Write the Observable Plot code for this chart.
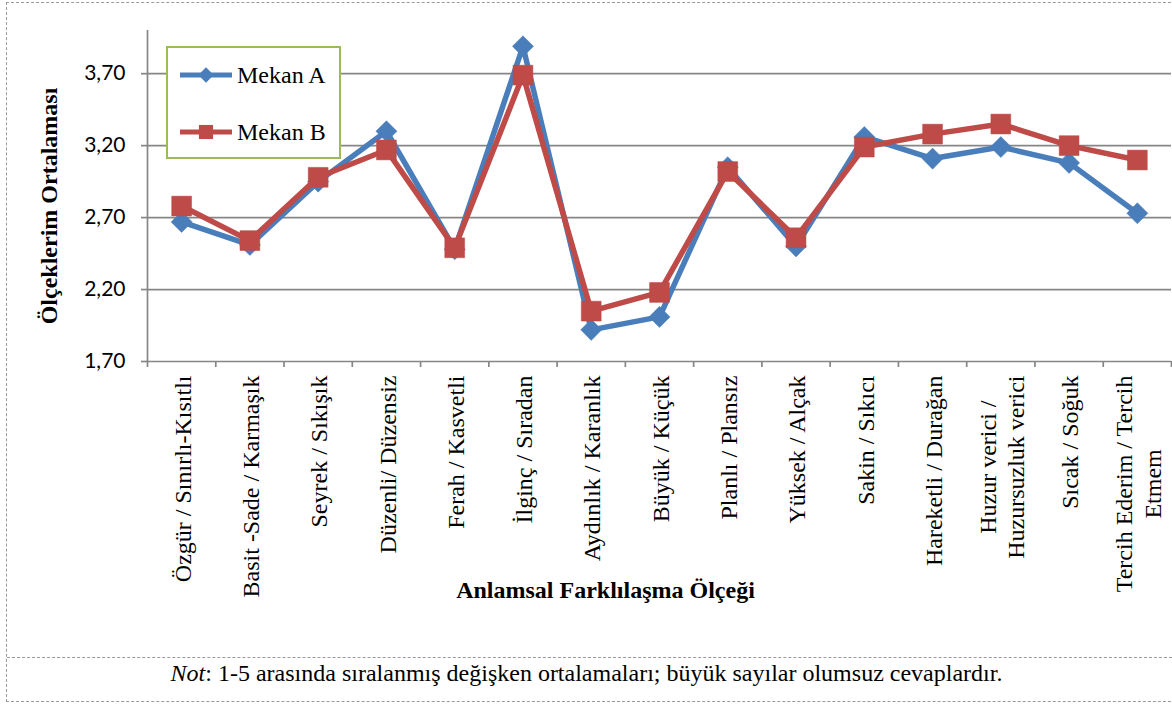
<!DOCTYPE html>
<html>
<head>
<meta charset="utf-8">
<script src="https://cdn.jsdelivr.net/npm/d3@7"></script>
<script src="https://cdn.jsdelivr.net/npm/@observablehq/plot@0.6"></script>
<style>
  html, body { margin: 0; padding: 0; background: #fff; }
  body { width: 1172px; height: 704px; position: relative; overflow: hidden; font-family: "Liberation Serif", "Times New Roman", serif; }
  #frame { position: absolute; left: 6px; top: 2px; width: 1200px; height: 700px; border: 1px dashed #9a9a9a; box-sizing: border-box; pointer-events: none; }
  #chart { position: absolute; left: 0; top: 0; }
  #chart svg { display: block; }
  #chart g[aria-label="x-axis tick label"] { font-family: "Liberation Serif", "Times New Roman", serif !important; }
  #caption { position: absolute; left: 7px; top: 657px; width: 1165px; height: 44px; border-top: 1px dashed #9a9a9a; box-sizing: border-box;
             font-size: 24px; line-height: 31px; text-align: center; color: #000; padding-right: 0; }
  #caption span.inner { position: relative; left: -3px; }
  #legend { position: absolute; left: 166px; top: 46px; width: 175px; height: 113px; border: 2px solid #9bbb59; background: #fff; box-sizing: border-box; }
  .item { position: absolute; left: 0; height: 30px; display: flex; align-items: center; }
  .item svg { position: absolute; left: 12px; top: 0; }
  .item span { position: absolute; left: 69px; font-size: 24px; line-height: 30px; white-space: nowrap; color: #000; }
</style>
</head>
<body>
<div id="chart"></div>
<div id="legend"></div>
<div id="caption"><span class="inner"><i>Not</i>: 1-5 arasında sıralanmış değişken ortalamaları; büyük sayılar olumsuz cevaplardır.</span></div>
<div id="frame"></div>
<script>
// ---- data ----
const categories = [
  "Özgür / Sınırlı-Kısıtlı",
  "Basit -Sade / Karmaşık",
  "Seyrek / Sıkışık",
  "Düzenli/ Düzensiz",
  "Ferah / Kasvetli",
  "İlginç / Sıradan",
  "Aydınlık / Karanlık",
  "Büyük / Küçük",
  "Planlı / Plansız",
  "Yüksek / Alçak",
  "Sakin / Sıkıcı",
  "Hareketli / Durağan",
  "Huzur verici /\nHuzursuzluk verici",
  "Sıcak / Soğuk",
  "Tercih Ederim / Tercih\nEtmem"
];
const seriesNames = ["Mekan A", "Mekan B"];
const mekanA = [2.67, 2.51, 2.95, 3.30, 2.48, 3.89, 1.92, 2.01, 3.05, 2.50, 3.26, 3.11, 3.19, 3.08, 2.73];
const mekanB = [2.78, 2.54, 2.98, 3.17, 2.49, 3.69, 2.05, 2.18, 3.02, 2.56, 3.19, 3.28, 3.35, 3.20, 3.10];
const yTicks = [1.7, 2.2, 2.7, 3.2, 3.7];
const yTitle = "Ölçeklerim Ortalaması";
const xTitle = "Anlamsal Farklılaşma Ölçeği";

// ---- styles ----
const colors = ["#4a7ebb", "#be4b48"];
const symbols = ["diamond2", "square"];
const grid = "#868686";

const rows = (vals, s) => vals.map((v, i) => ({i, cat: categories[i], series: seriesNames[s], value: v}));
const dataA = rows(mekanA, 0);
const dataB = rows(mekanB, 1);

const fmt = d => d.toFixed(2).replace(".", ",");

const chart = Plot.plot({
  width: 1172,
  height: 655,
  marginLeft: 147,
  marginRight: 1,
  marginTop: 30,
  marginBottom: 294,
  style: {fontFamily: "'Liberation Serif', serif", fontSize: "24px", background: "transparent", overflow: "visible", color: "#000"},
  x: {domain: [0, categories.length], axis: null},
  y: {domain: [1.7, 4.0], axis: null},
  marks: [
    Plot.gridY(yTicks, {stroke: grid, strokeOpacity: 1, strokeWidth: 1.7}),
    Plot.ruleX([0], {stroke: grid, strokeWidth: 1.7}),
    Plot.axisY({ticks: yTicks, tickSize: 6, tickPadding: 16, tickFormat: fmt, stroke: grid, strokeWidth: 1.7,
                fontFamily: "Lato", fontSize: 21, label: null}),
    Plot.axisX({ticks: d3.range(categories.length + 1), tickSize: 6, tickFormat: () => "", stroke: grid, strokeWidth: 1.7, label: null}),
    Plot.axisX({ticks: d3.range(categories.length).map(i => i + 0.5), tickSize: 0, tickPadding: 14, tickRotate: -90,
                tickFormat: d => categories[Math.floor(d)], fontSize: 24, lineHeight: 1.2, label: null}),
    Plot.text([yTitle], {text: d => d, frameAnchor: "left", textAnchor: "middle", rotate: -90, dx: -98, dy: 10, fontWeight: "bold", fontSize: 24, fill: "#000"}),
    Plot.text([xTitle], {text: d => d, frameAnchor: "bottom", textAnchor: "middle", dx: -54, dy: 236, fontWeight: "bold", fontSize: 24, fill: "#000"}),
    Plot.line(dataA, {x: d => d.i + 0.5, y: "value", stroke: colors[0], strokeWidth: 5.5, strokeLinejoin: "round"}),
    Plot.dot(dataA, {x: d => d.i + 0.5, y: "value", symbol: symbols[0], r: 9.5, fill: colors[0], stroke: colors[0], strokeWidth: 0.5}),
    Plot.line(dataB, {x: d => d.i + 0.5, y: "value", stroke: colors[1], strokeWidth: 5.5, strokeLinejoin: "round"}),
    Plot.dot(dataB, {x: d => d.i + 0.5, y: "value", symbol: symbols[1], r: 11.2, fill: colors[1], stroke: colors[1], strokeWidth: 0.5})
  ]
});
document.getElementById("chart").appendChild(chart);

// center the lines of wrapped tick labels on each other (as in the original)
chart.querySelectorAll('g[aria-label="x-axis tick label"] text').forEach(t => {
  const spans = t.querySelectorAll("tspan");
  if (spans.length < 2) return;
  const lens = [...spans].map(s => s.getComputedTextLength());
  const L = Math.max(...lens);
  spans.forEach(s => { s.setAttribute("text-anchor", "middle"); s.setAttribute("x", -L / 2); });
});

// ---- legend ----
const legend = document.getElementById("legend");
const symPath = [d3.symbol(d3.symbolDiamond2, 150)(), d3.symbol(d3.symbolSquare, 200)()];
const rowTops = [12, 69];
seriesNames.forEach((name, s) => {
  const item = document.createElement("div");
  item.className = "item";
  item.style.top = rowTops[s] + "px";
  item.innerHTML = `<svg width="54" height="30"><line x1="0" x2="52" y1="15" y2="15" stroke="${colors[s]}" stroke-width="5"/>` +
    `<path d="${symPath[s]}" transform="translate(26,15)" fill="${colors[s]}"/></svg><span>${name}</span>`;
  legend.appendChild(item);
});
</script>
</body>
</html>
